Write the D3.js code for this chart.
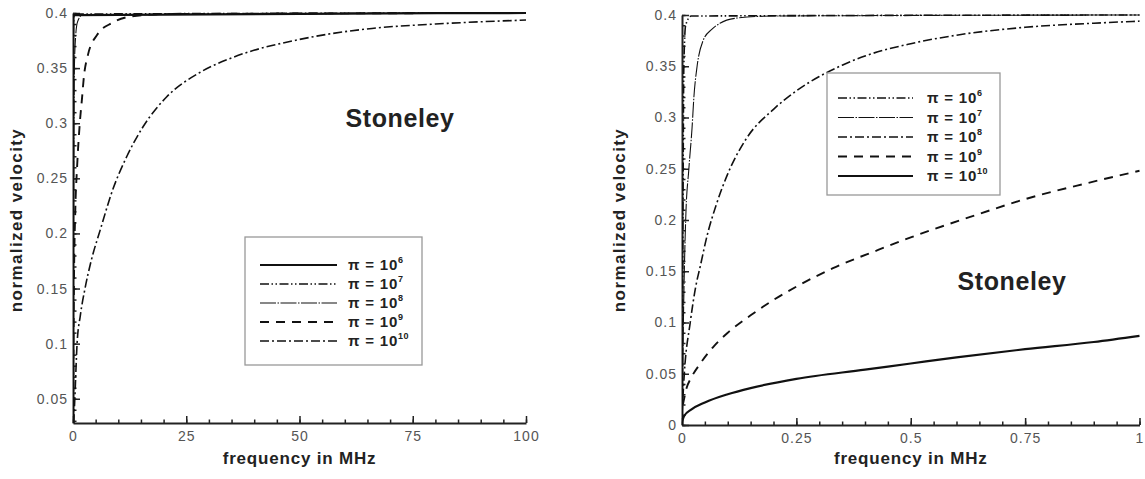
<!DOCTYPE html>
<html>
<head>
<meta charset="utf-8">
<script src="https://cdn.jsdelivr.net/npm/d3@7"></script>
<style>
  body { margin: 0; background: #fff; }
  svg { display: block; font-family: "Liberation Sans", Arial, sans-serif; }
  .tick text { fill: #555; font-size: 14px; letter-spacing: 1px; }
  .domain { stroke: #222; stroke-width: 2; }
  .tick line { stroke: #222; stroke-width: 1.5; }
</style>
</head>
<body>
<div class="canvas"></div>
<script>
// ---- data ----
// left panel, frequency 0..100 MHz
var leftX = [0, 25, 50, 75, 100];
var leftY = [0.05, 0.1, 0.15, 0.2, 0.25, 0.3, 0.35, 0.4];
var leftPi6  = [[0,0.028],[0.003,0.2],[0.01,0.38],[0.03,0.398],[100,0.4]];
var leftPi7  = [[0.005,0.028],[0.01,0.1],[0.02,0.25],[0.03,0.32],[0.06,0.37],[0.1,0.39],[0.3,0.399],[100,0.4]];
var leftPi8  = [[0.02,0.028],[0.05,0.1],[0.1,0.2],[0.2,0.3],[0.3,0.35],[0.6,0.38],[1,0.392],[2,0.398],[100,0.4]];
var leftPi9  = [[0.02,0.028],[0.05,0.06],[0.2,0.15],[0.5,0.22],[0.9,0.26],[1.5,0.3],[2,0.323],[2.4,0.342],[3.3,0.362],[5.3,0.38],[8.6,0.391],[13,0.397],[20,0.399],[100,0.4]];
var leftPi10 = [[0.15,0.028],[0.4,0.05],[0.9,0.1],[1.6,0.125],[2.65,0.15],[4,0.175],[6,0.203],[8.8,0.24],[11.9,0.27],[15.5,0.297],[20.7,0.324],[28,0.346],[35.5,0.36],[50,0.376],[66,0.386],[80,0.39],[100,0.3936]];

// right panel, frequency 0..1 MHz
var rightX = [0, 0.25, 0.5, 0.75, 1];
var rightY = [0, 0.05, 0.1, 0.15, 0.2, 0.25, 0.3, 0.35, 0.4];
var rightPi6  = [[0,0],[0.002,0.2],[0.004,0.35],[0.008,0.39],[0.02,0.399],[1,0.4]];
var rightPi7  = [[0,0],[0.003,0.1],[0.008,0.2],[0.015,0.25],[0.022,0.29],[0.026,0.32],[0.033,0.35],[0.046,0.375],[0.065,0.386],[0.083,0.392],[0.12,0.397],[0.2,0.399],[1,0.4]];
var rightPi8  = [[0,0.01],[0.005,0.05],[0.018,0.1],[0.03,0.135],[0.04,0.155],[0.055,0.185],[0.075,0.215],[0.1,0.245],[0.14,0.279],[0.2,0.308],[0.25,0.326],[0.3,0.34],[0.35,0.351],[0.4,0.36],[0.5,0.372],[0.61,0.381],[0.75,0.388],[0.9,0.392],[1,0.394]];
var rightPi9  = [[0.002,0.02],[0.01,0.036],[0.02,0.046],[0.04,0.06],[0.07,0.077],[0.1,0.09],[0.15,0.107],[0.2,0.122],[0.25,0.135],[0.33,0.153],[0.43,0.171],[0.5,0.183],[0.63,0.203],[0.755,0.221],[0.886,0.236],[1,0.248]];
var rightPi10 = [[0,0.003],[0.005,0.009],[0.02,0.015],[0.05,0.022],[0.1,0.03],[0.15,0.036],[0.25,0.045],[0.4,0.054],[0.5,0.06],[0.6,0.066],[0.75,0.074],[0.9,0.081],[1,0.087]];

var exps = ["6", "7", "8", "9", "10"];

// line styles
var styles = {
  solid:   {w: 2.2, dash: null},
  dashdd:  {w: 1.6, dash: "9,2.5,1.5,2.5,1.5,2.5"},
  dotline: {w: 1.1, dash: "16,1.5,1.5,1.5"},
  dashed:  {w: 1.9, dash: "9,7"},
  dashdot: {w: 1.6, dash: "9,3,2,3"}
};

var width = 1145, height = 479;
var svg = d3.select(".canvas").append("svg").attr("width", width).attr("height", height);

function drawPanel(p) {
  var x = d3.scaleLinear().domain(p.xDomain).range(p.xRange);
  var y = d3.scaleLinear().domain(p.yDomain).range(p.yRange);
  var g = svg.append("g");

  g.append("clipPath").attr("id", p.id).append("rect")
    .attr("x", p.xRange[0]).attr("y", p.yRange[1] - 3)
    .attr("width", p.xRange[1] - p.xRange[0] + 2).attr("height", p.yRange[0] - p.yRange[1] + 3);

  // minor ticks
  g.append("g").attr("transform", "translate(0," + p.yRange[0] + ")")
    .call(d3.axisBottom(x).tickValues(p.xMinor).tickSize(-3.5).tickFormat("").tickSizeOuter(0))
    .select(".domain").remove();
  g.append("g").attr("transform", "translate(" + p.xRange[0] + ",0)")
    .call(d3.axisLeft(y).tickValues(p.yMinor).tickSize(-3.5).tickFormat("").tickSizeOuter(0))
    .select(".domain").remove();

  // major ticks
  g.append("g").attr("transform", "translate(0," + p.yRange[0] + ")")
    .call(d3.axisBottom(x).tickValues(p.xTicks).tickSize(-7).tickPadding(8).tickSizeOuter(0)
      .tickFormat(function(d){ return String(+d.toFixed(2)); }));
  g.append("g").attr("transform", "translate(" + p.xRange[0] + ",0)")
    .call(d3.axisLeft(y).tickValues(p.yTicks).tickSize(-7).tickPadding(p.yPad).tickSizeOuter(0)
      .tickFormat(function(d){ return String(+d.toFixed(2)); }));

  // curves
  var line = d3.line().x(function(d){ return x(d[0]); }).y(function(d){ return y(d[1]); })
    .curve(d3.curveMonotoneX);
  p.series.forEach(function(s) {
    var st = styles[s.style];
    g.append("path").datum(s.data)
      .attr("clip-path", "url(#" + p.id + ")")
      .attr("fill", "none").attr("stroke", "#111")
      .attr("stroke-width", st.w).attr("stroke-dasharray", st.dash)
      .attr("d", line);
  });

  // axis titles
  g.append("text").attr("x", (p.xRange[0] + p.xRange[1]) / 2 + p.xTitleDx).attr("y", p.xTitleY)
    .attr("text-anchor", "middle").attr("font-weight", "bold").attr("font-size", 17)
    .attr("letter-spacing", 0.8).attr("fill", "#222").text("frequency in MHz");
  g.append("text").attr("transform", "translate(" + p.yTitleX + ",220) rotate(-90)")
    .attr("text-anchor", "middle").attr("font-weight", "bold").attr("font-size", 17)
    .attr("letter-spacing", 1.4).attr("fill", "#222").text("normalized velocity");

  // Stoneley label
  g.append("text").attr("x", p.labelX).attr("y", p.labelY)
    .attr("text-anchor", "middle").attr("font-weight", "bold").attr("font-size", 25)
    .attr("letter-spacing", 0.6).attr("fill", "#222").text("Stoneley");

  // legend
  var L = p.legend;
  g.append("rect").attr("x", L.x).attr("y", L.y).attr("width", L.w).attr("height", L.h)
    .attr("fill", "#fff").attr("stroke", "#999").attr("stroke-width", 1.3);
  p.series.forEach(function(s, i) {
    var st = styles[s.style];
    var ry = L.row0 + i * L.step;
    g.append("line").attr("x1", L.lx1).attr("x2", L.lx2).attr("y1", ry).attr("y2", ry)
      .attr("stroke", "#111").attr("stroke-width", st.w).attr("stroke-dasharray", st.dash);
    var t = g.append("text").attr("x", L.tx).attr("y", ry + 5)
      .attr("font-size", 15).attr("font-weight", "bold").attr("letter-spacing", 0.8).attr("fill", "#222");
    t.append("tspan").text("\u03c0 = 10");
    t.append("tspan").attr("dy", -7).attr("font-size", 9).attr("letter-spacing", 0.5).text(s.exp);
  });
}

drawPanel({
  id: "clipL",
  xDomain: [0, 100], xRange: [73, 526],
  yDomain: [0.028, 0.4], yRange: [423, 13],
  xTicks: leftX, yTicks: leftY,
  xMinor: d3.range(0, 101, 5), yMinor: d3.range(0.03, 0.401, 0.01),
  yPad: 5,
  series: [
    {exp: exps[0], style: "solid",   data: leftPi6},
    {exp: exps[1], style: "dashdd",  data: leftPi7},
    {exp: exps[2], style: "dotline", data: leftPi8},
    {exp: exps[3], style: "dashed",  data: leftPi9},
    {exp: exps[4], style: "dashdot", data: leftPi10}
  ],
  xTitleDx: 0, xTitleY: 464, yTitleX: 22,
  labelX: 400, labelY: 127,
  legend: {x: 245, y: 237, w: 177, h: 128, row0: 265, step: 19, lx1: 260, lx2: 337, tx: 348}
});

drawPanel({
  id: "clipR",
  xDomain: [0, 1], xRange: [682, 1139.5],
  yDomain: [0, 0.4], yRange: [425, 15],
  xTicks: rightX, yTicks: rightY,
  xMinor: d3.range(0, 1.001, 0.05), yMinor: d3.range(0, 0.401, 0.01),
  yPad: 5,
  series: [
    {exp: exps[0], style: "dashdd",  data: rightPi6},
    {exp: exps[1], style: "dotline", data: rightPi7},
    {exp: exps[2], style: "dashdot", data: rightPi8},
    {exp: exps[3], style: "dashed",  data: rightPi9},
    {exp: exps[4], style: "solid",   data: rightPi10}
  ],
  xTitleDx: 0, xTitleY: 464, yTitleX: 625,
  labelX: 1012, labelY: 290,
  legend: {x: 827, y: 73, w: 173, h: 122, row0: 98, step: 19.5, lx1: 838, lx2: 913, tx: 927}
});
</script>
</body>
</html>
